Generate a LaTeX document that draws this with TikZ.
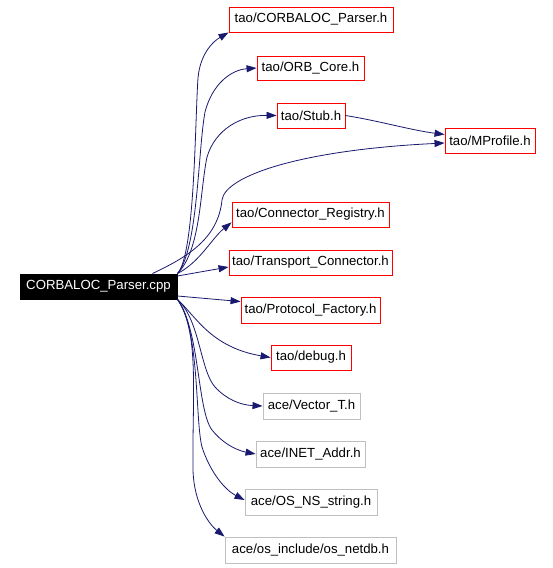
\documentclass[tikz,border=0pt]{standalone}
\usepackage{fontspec}
\setmainfont{Liberation Sans}
\usetikzlibrary{arrows.meta,calc}
\definecolor{edgec}{HTML}{191970}
\definecolor{grayb}{HTML}{BFBFBF}
\begin{document}
\begin{tikzpicture}[x=1pt,y=-1pt,
  box/.style={draw,line width=0.9pt,minimum height=25pt,inner sep=0pt,font=\fontsize{13.2}{15}\selectfont},
  taobox/.style={box,draw=red},
  acebox/.style={box,draw=grayb},
  mainbox/.style={box,fill=black,draw=black,text=white},
  edge/.style={draw=edgec,line width=0.8pt,-{Triangle[length=10pt,width=7pt]}}]
\useasboundingbox (0,0) rectangle (552,568);
\fill[white] (0,0) rectangle (552,568);
\node[mainbox,minimum width=157pt] (main) at (98.5,286.5) {CORBALOC\_Parser.cpp};
\node[taobox,minimum width=164pt] (cph) at (311,19.5) {tao/CORBALOC\_Parser.h};
\node[taobox,minimum width=107pt,minimum height=24pt] (orb) at (310.5,68) {tao/ORB\_Core.h};
\node[taobox,minimum width=68pt] (stub) at (311,115.5) {tao/Stub.h};
\node[taobox,minimum width=90pt] (mprof) at (490,140.5) {tao/MProfile.h};
\node[taobox,minimum width=157pt] (creg) at (310.5,214.5) {tao/Connector\_Registry.h};
\node[taobox,minimum width=163pt] (tc) at (310.5,262.5) {tao/Transport\_Connector.h};
\node[taobox,minimum width=139pt,minimum height=26pt] (pf) at (310.5,310) {tao/Protocol\_Factory.h};
\node[taobox,minimum width=80pt] (debug) at (311,357.5) {tao/debug.h};
\node[acebox,minimum width=97pt,minimum height=26pt] (vec) at (311.5,406) {ace/Vector\_T.h};
\node[acebox,minimum width=109pt,minimum height=26pt] (inet) at (310.5,454) {ace/INET\_Addr.h};
\node[acebox,minimum width=132pt,minimum height=26pt] (osns) at (311,502) {ace/OS\_NS\_string.h};
\node[acebox,minimum width=171pt,minimum height=26pt] (netdb) at (310.5,550) {ace/os\_include/os\_netdb.h};

\draw[edge] (main.north east) .. controls (195,255) and (195,120) .. (198,78)
  .. controls (200,55) and (212,42) .. (cph.south west);
\draw[edge] (main.north east) .. controls (198,250) and (198,150) .. (205,112)
  .. controls (212,85) and (230,70) .. (orb.west);
\draw[edge] (main.north east) .. controls (201,250) and (200,190) .. (207,157)
  .. controls (215,130) and (240,115) .. (stub.west);
\draw[edge] (stub.east) .. controls (380,121) and (410,130) .. ($(mprof.west)+(0,-6)$);
\draw[edge] ($(main.north east)+(-25,0)$) .. controls (185,258) and (218,240) .. (222,200)
  .. controls (225,176) and (300,150) .. ($(mprof.west)+(0,2.5)$);
\draw[edge] (main.north east) .. controls (200,262) and (212,238) .. ($(creg.south west)+(0,-5)$);
\draw[edge] ($(main.east)+(0,-10.5)$) -- ($(tc.west)+(0,4.5)$);
\draw[edge] ($(main.east)+(0,9.5)$) -- ($(pf.north west)+(0,5)$);
\draw[edge] (main.south east) .. controls (195,315) and (210,347) .. (debug.west);
\draw[edge] (main.south east) .. controls (200,320) and (200,370) .. (215,387)
  .. controls (226,399) and (240,405) .. (vec.west);
\draw[edge] (main.south east) .. controls (200,330) and (197,410) .. (212,430)
  .. controls (225,446) and (240,451) .. (inet.west);
\draw[edge] (main.south east) .. controls (200,330) and (195,420) .. (202,447)
  .. controls (210,472) and (225,490) .. ($(osns.west)+(0,-2)$);
\draw[edge] (main.south east) .. controls (200,330) and (192,400) .. (193,470)
  .. controls (194,505) and (210,525) .. (netdb.north west);
\end{tikzpicture}
\end{document}
